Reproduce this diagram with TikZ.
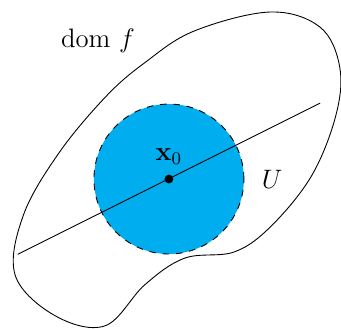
\documentclass[tikz,border=0pt]{standalone}
\usepackage{amsmath,amssymb}
\usetikzlibrary{positioning}

\definecolor{ballblue}{RGB}{0,174,239}

\begin{document}
\begin{tikzpicture}[font=\large,
  dot/.style={circle,fill=black,minimum size=1.4mm,inner sep=0pt},
  ball/.style={draw,dashed,fill=ballblue}]
  \useasboundingbox (-2.67,-2.37) rectangle (2.72,2.83);
  % domain of f
  \draw[smooth cycle,tension=0.6] plot coordinates {
    (1.60,2.64) (2.39,2.40) (2.70,1.77) (2.64,1.01) (2.26,0.06)
    (1.63,-0.73) (1.04,-1.15) (0.25,-1.25) (-0.38,-1.67)
    (-1.01,-2.32) (-1.80,-2.16) (-2.43,-1.52) (-2.30,-0.57)
    (-1.74,0.41) (-1.00,1.30) (-0.38,1.84) (0.40,2.34)};
  % neighbourhood U
  \draw[ball] (0,0) circle (1.185);
  \coordinate (a) at (-2.39,-1.19);
  \coordinate (b) at (2.39,1.20);
  \draw (a) -- (b);
  \node[dot,label={[label distance=0.3mm]above:$\mathbf{x}_0$}] (x0) at (0,0) {};
  \node (U) at (1.63,0) {$U$};
  \node (dom) at (-1.12,2.18) {$\mathrm{dom}\ f$};
\end{tikzpicture}
\end{document}
